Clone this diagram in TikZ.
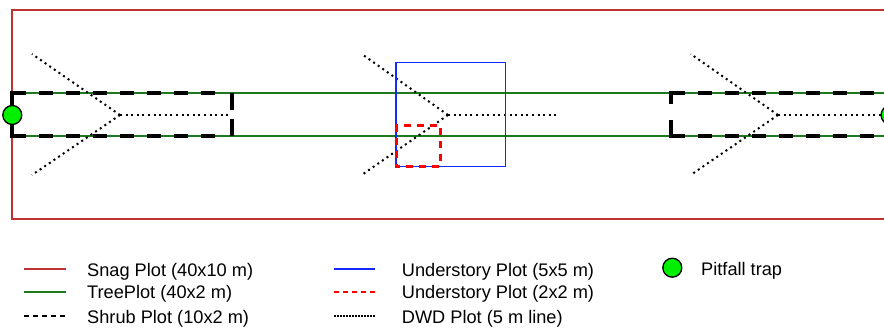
\documentclass[tikz,border=0pt]{standalone}
\usepackage{fontspec}
\setmainfont{Liberation Sans}
\definecolor{snagred}{RGB}{190,50,50}
\definecolor{treegreen}{RGB}{30,120,30}
\definecolor{usblue}{RGB}{20,40,255}
\definecolor{trapgreen}{RGB}{0,240,0}
\tikzset{
  snag/.style={draw=snagred, line width=1.5pt},
  tree/.style={draw=treegreen, line width=1.8pt},
  shrubsolid/.style={draw=black, line width=4pt},
  shrub/.style={draw=black, line width=4pt, dash pattern=on 14pt off 13pt},
  dwd/.style={draw=black, line width=2pt, dash pattern=on 2pt off 3.6pt},
  usbig/.style={draw=usblue, line width=1.5pt},
  ussmall/.style={draw=red, line width=3pt, dash pattern=on 7pt off 6pt},
  trap/.style={circle, draw=black, line width=1.3pt, fill=trapgreen, minimum size=19pt, inner sep=0pt},
  legtext/.style={anchor=base west, font=\fontsize{18.2pt}{20pt}\selectfont, inner sep=0pt},
  legsnag/.style={draw=snagred, line width=1.2pt},
  legtree/.style={draw=treegreen, line width=1.6pt},
  legshrub/.style={draw=black, line width=1.5pt, dash pattern=on 5pt off 4pt},
  legblue/.style={draw=usblue, line width=1.6pt},
  legred/.style={draw=red, line width=1.6pt, dash pattern=on 5pt off 4pt},
  legdwd/.style={draw=black, line width=1.3pt, dash pattern=on 1.5pt off 1.5pt},
}
\begin{document}
\begin{tikzpicture}[x=1pt, y=-1pt]
\useasboundingbox (0,0) rectangle (884,329);
\begin{scope}
\clip (0,0) rectangle (884,329);

% snag plot (40x10 m)
\draw[snag] (900,10) -- (12,10) -- (12,219) -- (900,219);

% tree plot (40x2 m)
\draw[tree] (12,93.3) -- (900,93.3);
\draw[tree] (12,135.7) -- (900,135.7);

% shrub plot (10x2 m), west end
\draw[shrubsolid] (12,105) -- (12,93.3) -- (26,93.3);
\draw[shrubsolid] (12,125) -- (12,135.7) -- (26,135.7);
\draw[shrub] (39,93.3) -- (216,93.3);
\draw[shrub] (39,135.7) -- (216,135.7);
\draw[shrubsolid] (231.7,93.3) -- (231.7,110);
\draw[shrubsolid] (231.7,119) -- (231.7,135.7);

% shrub plot (10x2 m), east end
\draw[shrubsolid] (670.7,104) -- (670.7,93.3) -- (684.7,93.3);
\draw[shrubsolid] (670.7,120) -- (670.7,135.7) -- (684.7,135.7);
\draw[shrub] (697.7,93.3) -- (900,93.3);
\draw[shrub] (697.7,135.7) -- (900,135.7);

% DWD lines (5 m)
\foreach \vx/\sx/\ex in {120/32/231, 448/361.7/558, 778/690.7/890}{
  \draw[dwd] (\vx,115) -- (\ex,115);
  \draw[dwd] (\vx,115) -- (\sx,54);
  \draw[dwd] (\vx,115) -- (\sx,175);
}

% understory plots
\draw[usbig] (396,62.3) rectangle (505.7,166.7);
\draw[ussmall] (396,125) rectangle (440,166.7);

% pitfall traps
\node[trap] (trapA) at (12.3,115) {};
\node[trap] (trapB) at (890.5,115) {};
\end{scope}

% legend
\draw[legsnag]  (24,269) -- (66,269);
\draw[legtree]  (24,292) -- (66,292);
\draw[legshrub] (24,316) -- (66,316);
\node[legtext] (lsnag)  at (87,276)   {Snag Plot (40x10 m)};
\node[legtext] (ltree)  at (87,298.5) {TreePlot (40x2 m)};
\node[legtext] (lshrub) at (87,323)   {Shrub Plot (10x2 m)};

\draw[legblue] (334,269) -- (375,269);
\draw[legred]  (334,292) -- (375,292);
\draw[legdwd]  (334,316) -- (375,316);
\node[legtext] (lus5) at (401.7,276)   {Understory Plot (5x5 m)};
\node[legtext] (lus2) at (401.7,298.5) {Understory Plot (2x2 m)};
\node[legtext] (ldwd) at (401.7,323)   {DWD Plot (5 m line)};

\node[trap] (legtrap) at (672.3,267.7) {};
\node[legtext] (ltrap) at (701,275) {Pitfall trap};
\end{tikzpicture}
\end{document}
